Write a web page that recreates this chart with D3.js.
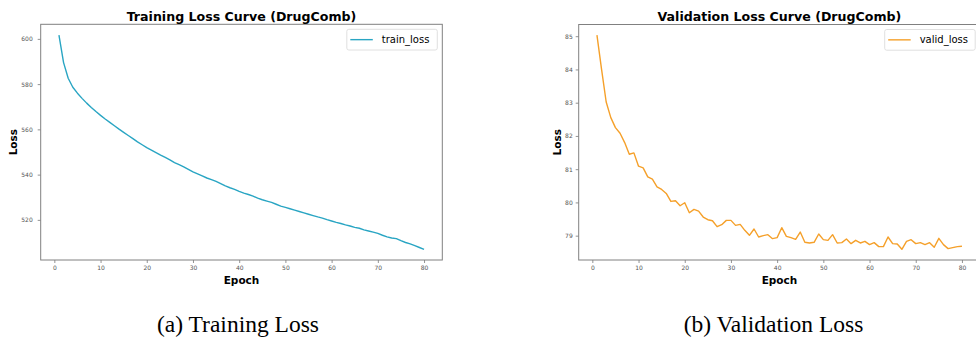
<!DOCTYPE html>
<html><head><meta charset="utf-8">
<script src="https://cdn.jsdelivr.net/npm/d3@7"></script>
<style>
html,body{margin:0;padding:0;background:#fff;overflow:hidden;}
svg{display:block;}
</style></head>
<body>
<svg id="chart" width="976" height="337"></svg>
<script>
// ---------- data ----------
const epochs = d3.range(1, 81);
const trainLoss = [
601.7,589.5,582.6,578.6,576.0,573.7,571.6,569.7,567.9,566.2,
564.6,563.1,561.6,560.1,558.7,557.3,555.9,554.5,553.2,551.9,
550.8,549.7,548.6,547.6,546.5,545.3,544.4,543.4,542.3,541.2,
540.3,539.4,538.5,537.8,537.0,536.0,535.0,534.2,533.5,532.6,
531.8,531.2,530.5,529.6,528.9,528.3,527.7,526.9,526.1,525.5,
524.9,524.3,523.7,523.1,522.5,521.9,521.3,520.8,520.1,519.5,
518.9,518.4,517.8,517.3,516.7,516.3,515.6,515.1,514.6,514.0,
513.2,512.5,512.0,511.7,510.8,510.0,509.4,508.6,507.8,507.0];
const validLoss = [
85.03,84.0,83.02,82.55,82.25,82.08,81.8,81.45,81.49,81.09,
81.04,80.77,80.7,80.47,80.39,80.27,80.03,80.05,79.9,79.99,
79.69,79.79,79.74,79.56,79.48,79.45,79.27,79.33,79.46,79.46,
79.31,79.34,79.16,79.01,79.2,78.96,79.0,79.03,78.91,78.94,
79.24,78.98,78.94,78.89,79.11,78.8,78.78,78.8,79.05,78.88,
78.86,79.03,78.78,78.79,78.9,78.76,78.86,78.78,78.83,78.73,
78.79,78.67,78.67,78.96,78.76,78.75,78.59,78.83,78.88,78.76,
78.79,78.73,78.79,78.65,78.92,78.73,78.61,78.64,78.67,78.68];
const xTicks = [0,10,20,30,40,50,60,70,80];
const trainTicks = [520,540,560,580,600];
const validTicks = [79,80,81,82,83,84,85];
const titles = ["Training Loss Curve (DrugComb)", "Validation Loss Curve (DrugComb)"];
const legendLabels = ["train_loss", "valid_loss"];
const captions = ["(a) Training Loss", "(b) Validation Loss"];
const xLabel = "Epoch", yLabel = "Loss";

// ---------- drawing ----------
const svg = d3.select("#chart");
const FONT = "'DejaVu Sans', sans-serif";

function panel(cfg) {
  const {left, right, top, bottom, values, ticks, color, title, legend, caption, captionX, labelX, tickPad} = cfg;
  const ext = d3.extent(values);
  const m = (ext[1] - ext[0]) * 0.05;
  const xm = (80 - 1) * 0.05;
  const x = d3.scaleLinear().domain([1 - xm, 80 + xm]).range([left, right]);
  const y = d3.scaleLinear().domain([ext[0] - m, ext[1] + m]).range([bottom, top]);
  const g = svg.append("g");

  // axes
  const xa = g.append("g").attr("transform", `translate(0,${bottom})`)
    .call(d3.axisBottom(x).tickValues(xTicks).tickSize(3).tickPadding(3).tickSizeOuter(0));
  const ya = g.append("g").attr("transform", `translate(${left},0)`)
    .call(d3.axisLeft(y).tickValues(ticks).tickSize(3).tickPadding(tickPad).tickSizeOuter(0));
  [xa, ya].forEach(a => {
    a.select(".domain").remove();
    a.selectAll(".tick line").attr("stroke", "#777").attr("stroke-width", 0.8);
    a.selectAll(".tick text").attr("fill", "#555").style("font-family", FONT).style("font-size", "6px");
  });
  // spines
  g.append("rect").attr("x", left).attr("y", top).attr("width", right - left).attr("height", bottom - top)
    .attr("fill", "none").attr("stroke", "#808080").attr("stroke-width", 1);

  // line
  g.append("path").datum(values)
    .attr("fill", "none").attr("stroke", color).attr("stroke-width", 1.4).attr("stroke-linejoin", "round")
    .attr("d", d3.line().x((d, i) => x(epochs[i])).y(d => y(d)));

  // title
  g.append("text").attr("x", (left + right) / 2).attr("y", 20.5).attr("text-anchor", "middle")
    .style("font-family", FONT).style("font-weight", "bold").style("font-size", "12.6px").attr("fill", "#000")
    .text(title);
  // axis labels
  g.append("text").attr("x", (left + right) / 2).attr("y", 284).attr("text-anchor", "middle")
    .style("font-family", FONT).style("font-weight", "bold").style("font-size", "10.5px").text(xLabel);
  g.append("text").attr("transform", `translate(${labelX},${(top + bottom) / 2}) rotate(-90)`)
    .attr("text-anchor", "middle").style("font-family", FONT).style("font-weight", "bold").style("font-size", "10.5px")
    .text(yLabel);

  // legend
  const lw = 90.5, lh = 20.7;
  const lx = right - 5 - lw, ly = top + 5;
  const lg = g.append("g");
  lg.append("rect").attr("x", lx).attr("y", ly).attr("width", lw).attr("height", lh).attr("rx", 2)
    .attr("fill", "#fff").attr("fill-opacity", 0.8).attr("stroke", "#d8d8d8").attr("stroke-width", 0.8);
  lg.append("line").attr("x1", lx + 3.5).attr("x2", lx + 26).attr("y1", ly + lh / 2).attr("y2", ly + lh / 2)
    .attr("stroke", color).attr("stroke-width", 1.4);
  lg.append("text").attr("x", lx + 35).attr("y", ly + lh / 2 + 3.6)
    .style("font-family", FONT).style("font-size", "10px").attr("fill", "#000").text(legend);

  // caption
  svg.append("text").attr("x", captionX).attr("y", 331.5).attr("text-anchor", "middle")
    .style("font-family", "'Liberation Serif', 'Times New Roman', serif").style("font-size", "23.5px")
    .attr("fill", "#000").text(caption);
}

panel({left: 40.7, right: 442.3, top: 24.3, bottom: 260, values: trainLoss, ticks: trainTicks,
  color: "#29a5c3", title: titles[0], legend: legendLabels[0], caption: captions[0], captionX: 238, labelX: 16.5, tickPad: 5});
panel({left: 578.7, right: 980.2, top: 24.5, bottom: 260, values: validLoss, ticks: validTicks,
  color: "#f5a02a", title: titles[1], legend: legendLabels[1], caption: captions[1], captionX: 773.5, labelX: 560.5, tickPad: 3});
</script>
</body></html>
